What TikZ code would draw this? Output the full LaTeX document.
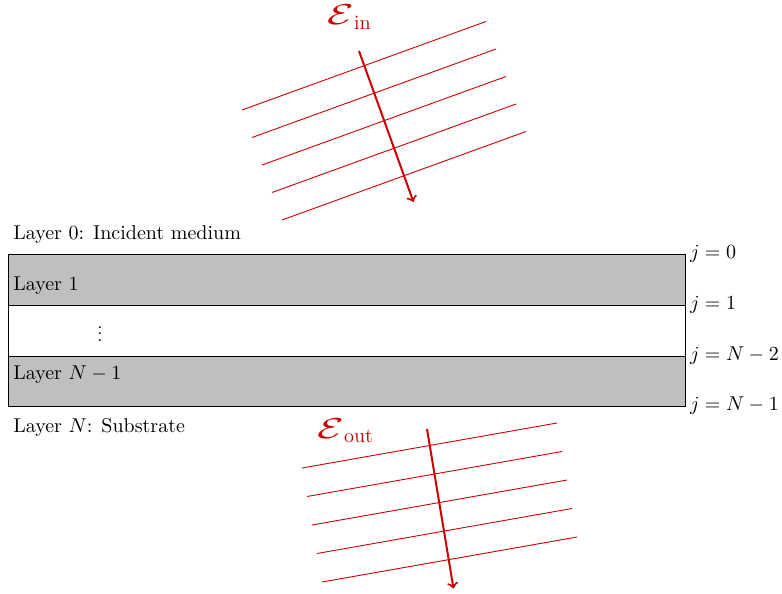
\documentclass[tikz,border=0pt]{standalone}
\usepackage{amsmath}
\usepackage{graphicx}
\definecolor{wavered}{RGB}{204,0,0}
\newcommand{\wideE}{\scalebox{1.5}[1]{$\mathcal{E}$}}
\tikzset{
  px/.style={x=0.5pt,y=-0.5pt},
  layerfill/.style={fill=lightgray,draw=black,line width=0.5pt},
  layerlabel/.style={anchor=base west,inner sep=0pt,font=\normalsize},
  jlabel/.style={anchor=west,inner sep=2.3pt},
  wavefront/.style={draw=wavered,line width=0.45pt},
  wavearrow/.style={draw=wavered,line width=1pt,->},
  fieldlabel/.style={text=wavered,font=\Large,anchor=base west,inner sep=0pt}
}
\begin{document}
\begin{tikzpicture}[px]
\useasboundingbox (0,0) rectangle (782,594);
% layers
\draw[layerfill] (8,254) rectangle (685,305);
\draw[draw=black,line width=0.5pt] (8,305) rectangle (685,356);
\draw[layerfill] (8,356) rectangle (685,406);
\coordinate (b0) at (685,254);
\coordinate (b1) at (685,305);
\coordinate (b2) at (685,356);
\coordinate (b3) at (685,406);
\node[layerlabel] (l0) at (13,239.3) {Layer 0: Incident medium};
\node[layerlabel] (l1) at (13,290.7) {Layer 1};
\node[inner sep=0pt] (dots) at (100,329) {\scalebox{1}[0.83]{$\vdots$}};
\node[layerlabel] (l2) at (13,379.5) {Layer $N-1$};
\node[layerlabel] (l3) at (13,432) {Layer $N$: Substrate};
\node[jlabel] (j0) at (b0) {$j=0$};
\node[jlabel] (j1) at (b1) {$j=1$};
\node[jlabel] (j2) at (b2) {$j=N-2$};
\node[jlabel] (j3) at (b3) {$j=N-1$};
% incident wave
\foreach \i in {0,...,4}{
  \draw[wavefront] ({242+10*\i},{110+27.5*\i}) -- ({486+10*\i},{21.5+27.5*\i});
}
\coordinate (ina) at (359,51);
\coordinate (inb) at (413.5,202);
\draw[wavearrow] (ina) -- (inb);
\node[fieldlabel] (ein) at (327,25) {$\text{\wideE}_{\mathrm{in}}$};
% outgoing wave
\foreach \i in {0,...,4}{
  \draw[wavefront] ({302+5*\i},{468+28.5*\i}) -- ({557+5*\i},{423+28.5*\i});
}
\coordinate (outa) at (427,429);
\coordinate (outb) at (453.5,588.5);
\draw[wavearrow] (outa) -- (outb);
\node[fieldlabel] (eout) at (317,438) {$\text{\wideE}_{\mathrm{out}}$};
\end{tikzpicture}
\end{document}
